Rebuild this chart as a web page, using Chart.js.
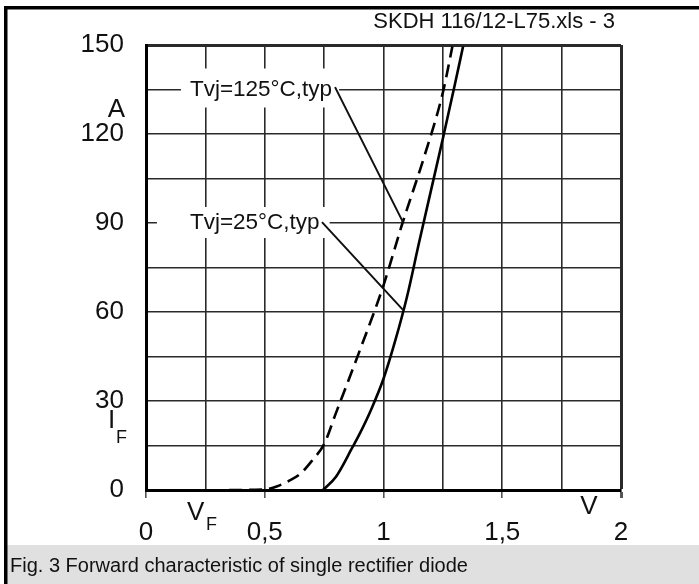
<!DOCTYPE html>
<html>
<head>
<meta charset="utf-8">
<script src="https://cdn.jsdelivr.net/npm/chart.js@4/dist/chart.umd.min.js"></script>
<style>
html,body{margin:0;padding:0;background:#fff;}
canvas{display:block;}
</style>
</head>
<body>
<canvas id="c" width="699" height="584"></canvas>
<script>
// ---- data ----
const xTickLabels = {0:'0', 0.5:'0,5', 1:'1', 1.5:'1,5', 2:'2'};
const yTickLabels = {0:'0', 30:'30', 60:'60', 90:'90', 120:'120', 150:'150'};

const v125 = [0.35, 0.5, 0.55, 0.6, 0.65, 0.7, 0.75, 0.8, 0.9, 1.0, 1.08, 1.17, 1.25, 1.29];
const i125 = [0, 0.2, 1.2, 3.0, 5.5, 10, 15.5, 26, 47, 69, 90, 112, 134, 149.5];

const v25 = [0.745, 0.8, 0.87, 0.9, 0.95, 1.0, 1.05, 1.1, 1.15, 1.2, 1.25, 1.3, 1.335];
const i25 = [0, 4.5, 14.5, 19, 27.5, 37.5, 50.5, 65.5, 83.5, 101, 118.5, 136.5, 149.5];

const label125 = 'Tvj=125°C,typ';
const label25 = 'Tvj=25°C,typ';
const headerText = 'SKDH 116/12-L75.xls - 3';
const captionText = 'Fig. 3 Forward characteristic of single rectifier diode';

const FONT = "'Liberation Sans', Arial, sans-serif";
const pts = (xs, ys) => xs.map((x, k) => ({x: x, y: ys[k]}));

const overlay = {
  id: 'overlay',
  beforeDatasetsDraw(chart) {
    const ctx = chart.ctx, xs = chart.scales.x, ys = chart.scales.y;
    ctx.save();
    ctx.fillStyle = '#fff';
    ctx.font = '22.5px ' + FONT;
    let x0 = xs.getPixelForValue(0.185), y0 = ys.getPixelForValue(135);
    let w = ctx.measureText(label125).width;
    ctx.fillRect(x0 - 9, y0 - 21, w + 16, 39);
    x0 = xs.getPixelForValue(0.185); y0 = ys.getPixelForValue(90);
    w = ctx.measureText(label25).width;
    ctx.fillRect(x0 - 33, y0 - 16, w + 43, 31);
    ctx.restore();
  },
  afterDatasetsDraw(chart) {
    const ctx = chart.ctx, xs = chart.scales.x, ys = chart.scales.y;
    ctx.save();
    ctx.fillStyle = '#111';
    ctx.font = '22.5px ' + FONT;
    ctx.textBaseline = 'middle';
    ctx.textAlign = 'left';
    ctx.fillText(label125, xs.getPixelForValue(0.185), ys.getPixelForValue(135));
    ctx.fillText(label25, xs.getPixelForValue(0.185), ys.getPixelForValue(90));
    ctx.strokeStyle = '#111';
    ctx.lineWidth = 2;
    ctx.beginPath();
    ctx.moveTo(xs.getPixelForValue(0.796), ys.getPixelForValue(135.8));
    ctx.lineTo(xs.getPixelForValue(1.082), ys.getPixelForValue(90.3));
    ctx.moveTo(xs.getPixelForValue(0.741), ys.getPixelForValue(90.3));
    ctx.lineTo(xs.getPixelForValue(1.082), ys.getPixelForValue(60.7));
    ctx.stroke();
    ctx.restore();
  },
  afterDraw(chart) {
    const ctx = chart.ctx;
    ctx.save();
    ctx.fillStyle = '#111';
    ctx.textBaseline = 'middle';
    ctx.font = '26px ' + FONT;
    ctx.textAlign = 'right';
    ctx.fillText('A', 125, 110);
    ctx.textAlign = 'left';
    ctx.fillText('I', 108, 421);
    ctx.font = '18px ' + FONT;
    ctx.fillText('F', 116, 438);
    ctx.font = '26px ' + FONT;
    ctx.fillText('V', 187, 513);
    ctx.font = '18px ' + FONT;
    ctx.fillText('F', 206, 525);
    ctx.font = '26px ' + FONT;
    ctx.textAlign = 'center';
    ctx.fillText('V', 589, 507);
    ctx.font = '22px ' + FONT;
    ctx.textAlign = 'right';
    ctx.textBaseline = 'alphabetic';
    ctx.fillText(headerText, 615, 28);
    ctx.fillStyle = '#e0e0e0';
    ctx.fillRect(6, 545, 693, 39);
    ctx.fillStyle = '#111';
    ctx.font = '20px ' + FONT;
    ctx.textAlign = 'left';
    ctx.textBaseline = 'middle';
    ctx.fillText(captionText, 10, 566);
    ctx.fillStyle = '#000';
    ctx.fillRect(4, 6, 695, 3.5);
    ctx.fillRect(4, 6, 3.5, 578);
    ctx.restore();
  }
};

new Chart(document.getElementById('c'), {
  type: 'scatter',
  data: {
    datasets: [
      {
        label: label125,
        data: pts(v125, i125),
        showLine: true,
        borderColor: '#000',
        borderWidth: 2.6,
        borderDash: [13, 7],
        pointRadius: 0,
        cubicInterpolationMode: 'monotone',
        fill: false
      },
      {
        label: label25,
        data: pts(v25, i25),
        showLine: true,
        borderColor: '#000',
        borderWidth: 2.6,
        pointRadius: 0,
        cubicInterpolationMode: 'monotone',
        fill: false
      }
    ]
  },
  options: {
    responsive: false,
    animation: false,
    devicePixelRatio: 1,
    layout: {padding: {left: 0, top: 45, right: 78, bottom: 0}},
    plugins: {legend: {display: false}, tooltip: {enabled: false}},
    scales: {
      x: {
        type: 'linear', min: 0, max: 2,
        afterFit: s => { s.height = 94; },
        ticks: {
          stepSize: 0.25,
          autoSkip: false,
          maxRotation: 0,
          padding: 19,
          color: '#111',
          font: {family: FONT, size: 26},
          callback: v => (xTickLabels[v] !== undefined ? xTickLabels[v] : '')
        },
        grid: {
          color: '#2a2a2a',
          lineWidth: c => (c.tick && c.tick.value === 2 ? 3 : 1.6),
          drawTicks: true,
          tickLength: 8,
          tickColor: c => (c.tick && Math.abs(c.tick.value * 2 - Math.round(c.tick.value * 2)) < 1e-6 ? '#555' : 'rgba(0,0,0,0)')
        },
        border: {display: true, color: '#000', width: 3}
      },
      y: {
        type: 'linear', min: 0, max: 150,
        afterFit: s => { s.width = 146; },
        ticks: {
          stepSize: 15,
          autoSkip: false,
          padding: 22,
          color: '#111',
          font: {family: FONT, size: 26},
          callback: v => (yTickLabels[v] !== undefined ? yTickLabels[v] : '')
        },
        grid: {
          color: '#2a2a2a',
          lineWidth: c => (c.tick && c.tick.value === 150 ? 3 : 1.6),
          drawTicks: false
        },
        border: {display: true, color: '#000', width: 3}
      }
    }
  },
  plugins: [overlay]
});
</script>
</body>
</html>
